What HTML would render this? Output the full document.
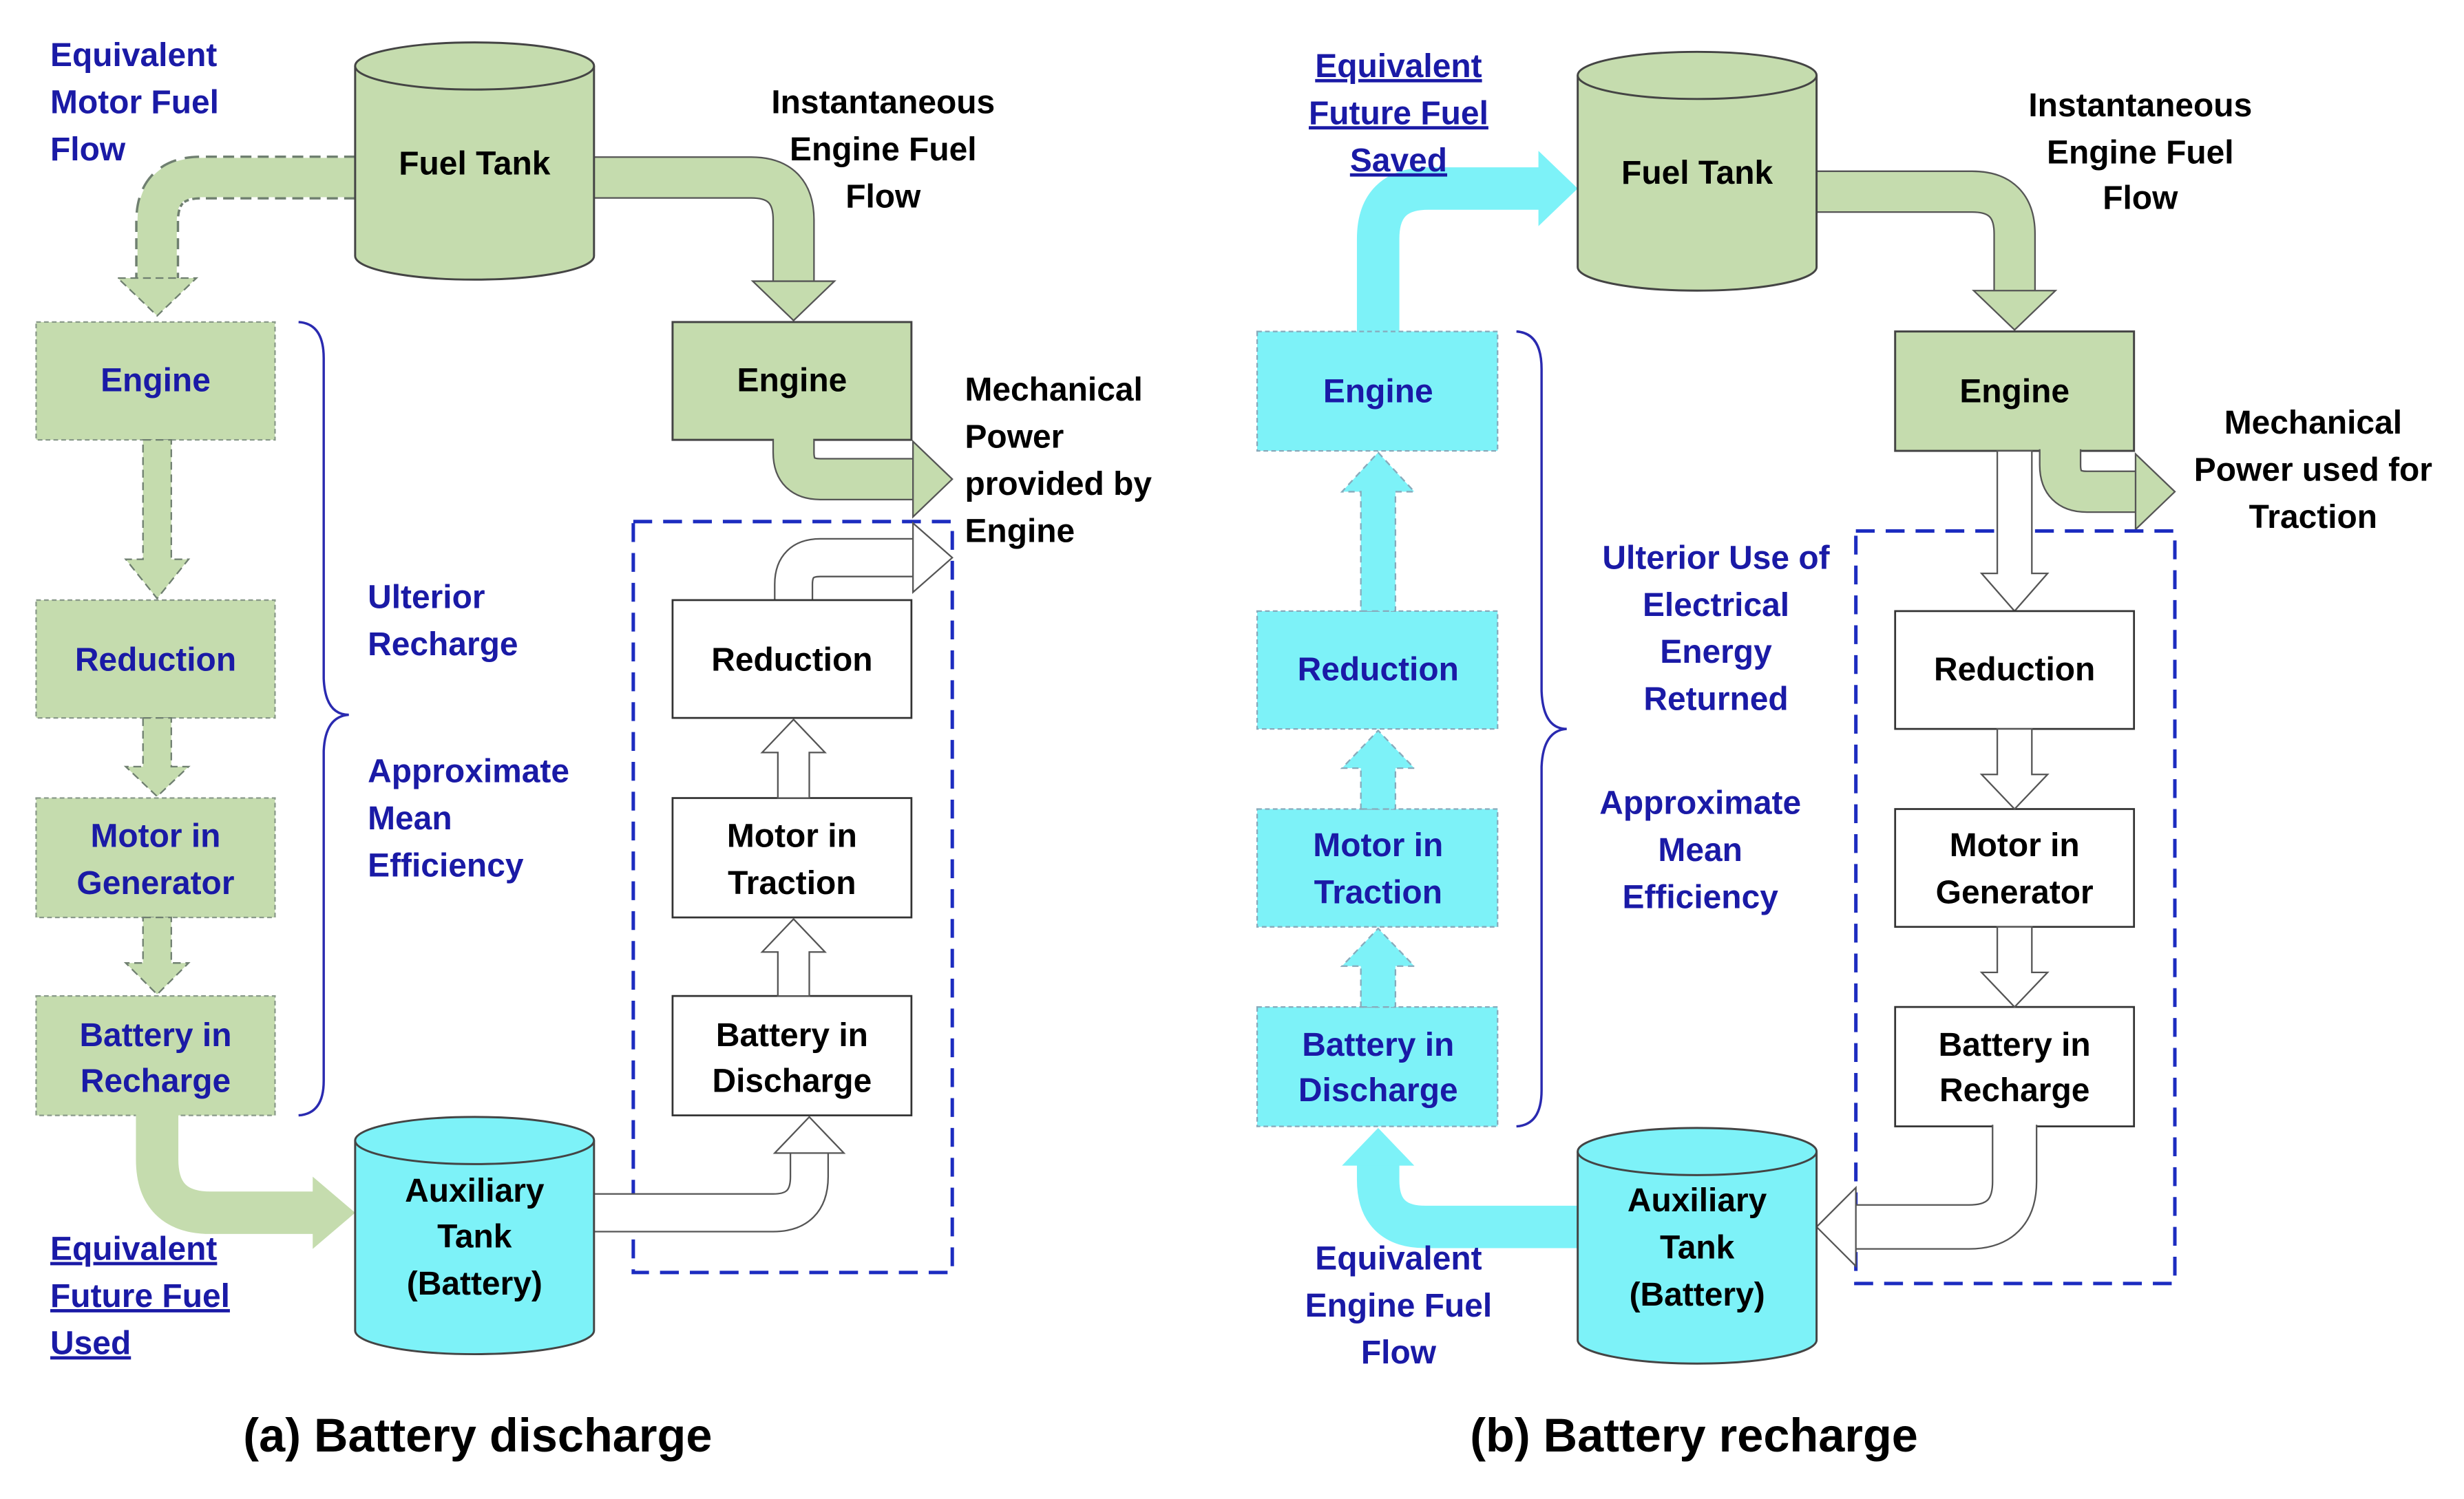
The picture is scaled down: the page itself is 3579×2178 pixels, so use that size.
<!DOCTYPE html>
<html><head><meta charset="utf-8"><style>
html,body{margin:0;padding:0;background:#fff;}
svg{display:block;}
text{font-family:"Liberation Sans",sans-serif;font-weight:bold;font-size:21px;}
.b{fill:#1a1aa6;}
.k{fill:#000;}
.m{text-anchor:middle;}
</style></head><body>
<svg width="3579" height="2178" viewBox="0 0 1568 954.2" preserveAspectRatio="none" xmlns="http://www.w3.org/2000/svg">
<rect width="1568" height="955" fill="#fff"/>

<!-- ===== PANEL A ===== -->
<path d="M226,113 H128 Q100,113 100,141 V177" fill="none" stroke="#6f7f70" stroke-width="28" stroke-dasharray="7,4"/>
<path d="M228,113 H128 Q100,113 100,141 V178" fill="none" stroke="#c5dcae" stroke-width="25"/>
<polygon points="75,177 125,177 100,201" fill="#c5dcae" stroke="#6f7f70" stroke-dasharray="5,3"/>
<path d="M376,113 H478 Q505,113 505,140 V179" fill="none" stroke="#555" stroke-width="27"/>
<path d="M374,113 H478 Q505,113 505,140 V181" fill="none" stroke="#c5dcae" stroke-width="25"/>
<polygon points="479,179 531,179 505,204" fill="#c5dcae" stroke="#555"/>

<path d="M226,42 V163 A76,15 0 0 0 378,163 V42" fill="#c5dcae" stroke="#444" stroke-width="1.3"/>
<ellipse cx="302" cy="42" rx="76" ry="15" fill="#c5dcae" stroke="#444" stroke-width="1.3"/>
<text x="302" y="111" class="k m">Fuel Tank</text>

<g fill="#c5dcae" stroke="#8a9a8a" stroke-dasharray="3,2">
<rect x="23" y="205" width="152" height="75"/>
<rect x="23" y="382" width="152" height="75"/>
<rect x="23" y="508" width="152" height="76"/>
<rect x="23" y="634" width="152" height="76"/>
</g>
<g fill="#c5dcae" stroke="#6f7f70" stroke-dasharray="5,3">
<polygon points="91,280 109,280 109,356 120,356 100,381 80,356 91,356"/>
<polygon points="91,457 109,457 109,488 120,488 100,507 80,488 91,488"/>
<polygon points="91,584 109,584 109,613 120,613 100,633 80,613 91,613"/>
</g>
<text x="99" y="249" class="b m">Engine</text>
<text x="99" y="427" class="b m">Reduction</text>
<text x="99" y="539" class="b m">Motor in</text>
<text x="99" y="569" class="b m">Generator</text>
<text x="99" y="666" class="b m">Battery in</text>
<text x="99" y="695" class="b m">Recharge</text>

<path d="M100,709 V738 Q100,772 134,772 H200" fill="none" stroke="#c5dcae" stroke-width="27"/>
<polygon points="199,749 199,795 226,772" fill="#c5dcae"/>

<path d="M190,205 Q206,206 206,228 V432 Q207,455 222,455 Q207,456 206,478 V688 Q206,709 190,710" fill="none" stroke="#2a2ab0" stroke-width="1.5"/>

<text x="234" y="387" class="b">Ulterior</text>
<text x="234" y="417" class="b">Recharge</text>
<text x="234" y="498" class="b">Approximate</text>
<text x="234" y="528" class="b">Mean</text>
<text x="234" y="558" class="b">Efficiency</text>

<text x="32" y="42" class="b">Equivalent</text>
<text x="32" y="72" class="b">Motor Fuel</text>
<text x="32" y="102" class="b">Flow</text>
<text x="562" y="72" class="k m">Instantaneous</text>
<text x="562" y="102" class="k m">Engine Fuel</text>
<text x="562" y="132" class="k m">Flow</text>

<rect x="428" y="205" width="152" height="75" fill="#c5dcae" stroke="#444" stroke-width="1.3"/>
<text x="504" y="249" class="k m">Engine</text>
<path d="M505,280 V288 Q505,305 522,305 H582" fill="none" stroke="#555" stroke-width="27"/>
<path d="M505,279 V288 Q505,305 522,305 H584" fill="none" stroke="#c5dcae" stroke-width="25"/>
<polygon points="581,281 581,329 606,305" fill="#c5dcae" stroke="#555"/>
<text x="614" y="255" class="k">Mechanical</text>
<text x="614" y="285" class="k">Power</text>
<text x="614" y="315" class="k">provided by</text>
<text x="614" y="345" class="k">Engine</text>

<rect x="403" y="332" width="203" height="478" fill="none" stroke="#1c2cc0" stroke-width="2.2" stroke-dasharray="12,7"/>

<path d="M505,382 V372 Q505,355 522,355 H582" fill="none" stroke="#555" stroke-width="25"/>
<path d="M505,383 V372 Q505,355 522,355 H584" fill="none" stroke="#fff" stroke-width="23"/>
<polygon points="581,333 581,377 606,355" fill="#fff" stroke="#555"/>

<g fill="#fff" stroke="#333" stroke-width="1.2">
<rect x="428" y="382" width="152" height="75"/>
<rect x="428" y="508" width="152" height="76"/>
<rect x="428" y="634" width="152" height="76"/>
</g>
<text x="504" y="427" class="k m">Reduction</text>
<text x="504" y="539" class="k m">Motor in</text>
<text x="504" y="569" class="k m">Traction</text>
<text x="504" y="666" class="k m">Battery in</text>
<text x="504" y="695" class="k m">Discharge</text>
<g fill="#fff" stroke="#555">
<polygon points="495,508 515,508 515,479 525,479 505,458 485,479 495,479"/>
<polygon points="495,634 515,634 515,606 525,606 505,585 485,606 495,606"/>
</g>
<path d="M376,772 H492 Q515,772 515,749 V734" fill="none" stroke="#555" stroke-width="25"/>
<path d="M374,772 H492 Q515,772 515,749 V732" fill="none" stroke="#fff" stroke-width="23"/>
<polygon points="493,734 537,734 515,711" fill="#fff" stroke="#555"/>

<path d="M226,726 V847 A76,15 0 0 0 378,847 V726" fill="#7df2f8" stroke="#444" stroke-width="1.3"/>
<ellipse cx="302" cy="726" rx="76" ry="15" fill="#7df2f8" stroke="#444" stroke-width="1.3"/>
<text x="302" y="765" class="k m">Auxiliary</text>
<text x="302" y="794" class="k m">Tank</text>
<text x="302" y="824" class="k m">(Battery)</text>

<text x="32" y="802" class="b" text-decoration="underline">Equivalent</text>
<text x="32" y="832" class="b" text-decoration="underline">Future Fuel</text>
<text x="32" y="862" class="b" text-decoration="underline">Used</text>

<text x="304" y="924" class="k m" style="font-size:30px">(a) Battery discharge</text>

<!-- ===== PANEL B ===== -->
<path d="M877,211 V152 Q877,120 909,120 H980" fill="none" stroke="#7df2f8" stroke-width="27"/>
<polygon points="979,96 979,144 1004,120" fill="#7df2f8"/>
<path d="M1154,122 H1255 Q1282,122 1282,149 V186" fill="none" stroke="#555" stroke-width="27"/>
<path d="M1152,122 H1255 Q1282,122 1282,149 V188" fill="none" stroke="#c5dcae" stroke-width="25"/>
<polygon points="1256,185 1308,185 1282,210" fill="#c5dcae" stroke="#555"/>

<path d="M1004,48 V170 A76,15 0 0 0 1156,170 V48" fill="#c5dcae" stroke="#444" stroke-width="1.3"/>
<ellipse cx="1080" cy="48" rx="76" ry="15" fill="#c5dcae" stroke="#444" stroke-width="1.3"/>
<text x="1080" y="117" class="k m">Fuel Tank</text>

<g fill="#7df2f8" stroke="#8ab" stroke-dasharray="3,2">
<rect x="800" y="211" width="153" height="76"/>
<rect x="800" y="389" width="153" height="75"/>
<rect x="800" y="515" width="153" height="75"/>
<rect x="800" y="641" width="153" height="76"/>
</g>
<g fill="#7df2f8" stroke="#8ab" stroke-dasharray="4,3">
<polygon points="866,389 888,389 888,313 900,313 877,288 854,313 866,313"/>
<polygon points="866,515 888,515 888,489 900,489 877,465 854,489 866,489"/>
<polygon points="866,641 888,641 888,615 900,615 877,591 854,615 866,615"/>
</g>
<text x="877" y="256" class="b m">Engine</text>
<text x="877" y="433" class="b m">Reduction</text>
<text x="877" y="545" class="b m">Motor in</text>
<text x="877" y="575" class="b m">Traction</text>
<text x="877" y="672" class="b m">Battery in</text>
<text x="877" y="701" class="b m">Discharge</text>

<path d="M1006,781 H907 Q877,781 877,751 V741" fill="none" stroke="#7df2f8" stroke-width="27"/>
<polygon points="854,742 900,742 877,718" fill="#7df2f8"/>

<path d="M965,211 Q981,212 981,235 V440 Q982,464 997,464 Q982,465 981,488 V694 Q981,716 965,717" fill="none" stroke="#2a2ab0" stroke-width="1.5"/>

<text x="890" y="49" class="b m" text-decoration="underline">Equivalent</text>
<text x="890" y="79" class="b m" text-decoration="underline">Future Fuel</text>
<text x="890" y="109" class="b m" text-decoration="underline">Saved</text>
<text x="1362" y="74" class="k m">Instantaneous</text>
<text x="1362" y="104" class="k m">Engine Fuel</text>
<text x="1362" y="133" class="k m">Flow</text>

<text x="1092" y="362" class="b m">Ulterior Use of</text>
<text x="1092" y="392" class="b m">Electrical</text>
<text x="1092" y="422" class="b m">Energy</text>
<text x="1092" y="452" class="b m">Returned</text>
<text x="1082" y="518" class="b m">Approximate</text>
<text x="1082" y="548" class="b m">Mean</text>
<text x="1082" y="578" class="b m">Efficiency</text>
<text x="890" y="808" class="b m">Equivalent</text>
<text x="890" y="838" class="b m">Engine Fuel</text>
<text x="890" y="868" class="b m">Flow</text>

<rect x="1206" y="211" width="152" height="76" fill="#c5dcae" stroke="#444" stroke-width="1.3"/>
<text x="1282" y="256" class="k m">Engine</text>
<path d="M1311,286 V296 Q1311,313 1328,313 H1360" fill="none" stroke="#555" stroke-width="27"/>
<path d="M1311,285 V296 Q1311,313 1328,313 H1362" fill="none" stroke="#c5dcae" stroke-width="25"/>
<polygon points="1359,289 1359,337 1384,313" fill="#c5dcae" stroke="#555"/>
<text x="1472" y="276" class="k m">Mechanical</text>
<text x="1472" y="306" class="k m">Power used for</text>
<text x="1472" y="336" class="k m">Traction</text>

<rect x="1181" y="338" width="203" height="479" fill="none" stroke="#1c2cc0" stroke-width="2.2" stroke-dasharray="12,7"/>

<polygon points="1271,287 1293,287 1293,365 1303,365 1282,389 1261,365 1271,365" fill="#fff" stroke="#555"/>

<g fill="#fff" stroke="#333" stroke-width="1.2">
<rect x="1206" y="389" width="152" height="75"/>
<rect x="1206" y="515" width="152" height="75"/>
<rect x="1206" y="641" width="152" height="76"/>
</g>
<text x="1282" y="433" class="k m">Reduction</text>
<text x="1282" y="545" class="k m">Motor in</text>
<text x="1282" y="575" class="k m">Generator</text>
<text x="1282" y="672" class="k m">Battery in</text>
<text x="1282" y="701" class="k m">Recharge</text>
<g fill="#fff" stroke="#555">
<polygon points="1271,464 1293,464 1293,493 1303,493 1282,515 1261,493 1271,493"/>
<polygon points="1271,590 1293,590 1293,619 1303,619 1282,641 1261,619 1271,619"/>
</g>
<path d="M1282,716 V752 Q1282,781 1253,781 H1180" fill="none" stroke="#555" stroke-width="29"/>
<path d="M1282,714 V752 Q1282,781 1253,781 H1178" fill="none" stroke="#fff" stroke-width="27"/>
<polygon points="1181,756 1181,806 1156,781" fill="#fff" stroke="#555"/>

<path d="M1004,733 V853 A76,15 0 0 0 1156,853 V733" fill="#7df2f8" stroke="#444" stroke-width="1.3"/>
<ellipse cx="1080" cy="733" rx="76" ry="15" fill="#7df2f8" stroke="#444" stroke-width="1.3"/>
<text x="1080" y="771" class="k m">Auxiliary</text>
<text x="1080" y="801" class="k m">Tank</text>
<text x="1080" y="831" class="k m">(Battery)</text>

<text x="1078" y="924" class="k m" style="font-size:30px">(b) Battery recharge</text>
</svg>
</body></html>
